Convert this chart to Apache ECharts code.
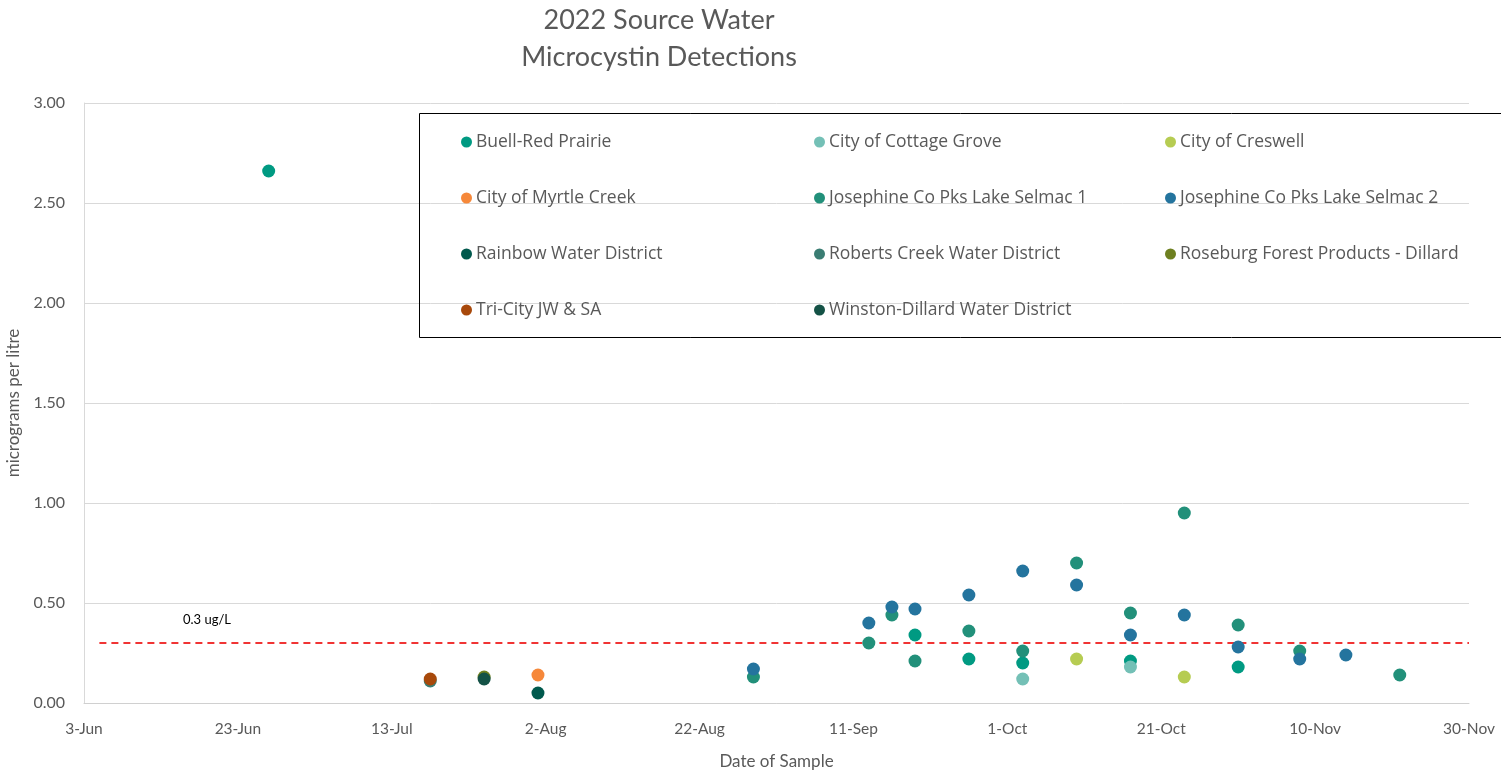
<!DOCTYPE html>
<html>
<head>
<meta charset="utf-8">
<script src="https://cdn.jsdelivr.net/npm/echarts@6/dist/echarts.min.js"></script>
<style>
  html, body { margin: 0; padding: 0; background: #fff; }
  #chart { width: 1501px; height: 776px; }
</style>
</head>
<body>
<div id="chart"></div>
<script>
// sample dates / microcystin values (ug/L)
const buellRedPrairie = [['2022-06-27', 2.66], ['2022-09-19', 0.34], ['2022-09-26', 0.22], ['2022-10-03', 0.20], ['2022-10-17', 0.21], ['2022-10-31', 0.18]]
const cottageGrove = [['2022-10-03', 0.12], ['2022-10-17', 0.18]]
const creswell = [['2022-10-10', 0.22], ['2022-10-24', 0.13]]
const myrtleCreek = [['2022-08-01', 0.14]]
const selmac1 = [['2022-08-29', 0.13], ['2022-09-13', 0.30], ['2022-09-16', 0.44], ['2022-09-19', 0.21], ['2022-09-26', 0.36], ['2022-10-03', 0.26], ['2022-10-10', 0.70], ['2022-10-17', 0.45], ['2022-10-24', 0.95], ['2022-10-31', 0.39], ['2022-11-08', 0.26], ['2022-11-21', 0.14]]
const selmac2 = [['2022-08-29', 0.17], ['2022-09-13', 0.40], ['2022-09-16', 0.48], ['2022-09-19', 0.47], ['2022-09-26', 0.54], ['2022-10-03', 0.66], ['2022-10-10', 0.59], ['2022-10-17', 0.34], ['2022-10-24', 0.44], ['2022-10-31', 0.28], ['2022-11-08', 0.22], ['2022-11-14', 0.24]]
const rainbow = [['2022-08-01', 0.05]]
const robertsCreek = [['2022-07-18', 0.11]]
const roseburg = [['2022-07-25', 0.13]]
const triCity = [['2022-07-18', 0.12]]
const winstonDillard = [['2022-07-25', 0.12]]

// 0.3 ug/L guideline
const threshold = 0.3
const thresholdSpan = ['2022-06-05', '2022-11-30']

const axisStart = '2022-06-03'
const axisEnd = '2022-11-30'
const monthNames = ['Jan', 'Feb', 'Mar', 'Apr', 'May', 'Jun', 'Jul', 'Aug', 'Sep', 'Oct', 'Nov', 'Dec']

const DAY = 86400000
const toMs = s => Date.parse(s + 'T00:00:00Z')

const seriesDefs = [
  { name: 'Buell-Red Prairie', data: buellRedPrairie, color: '#009a82' },
  { name: 'City of Cottage Grove', data: cottageGrove, color: '#74c0b6' },
  { name: 'City of Creswell', data: creswell, color: '#b6cc52' },
  { name: 'City of Myrtle Creek', data: myrtleCreek, color: '#f6883a' },
  { name: 'Josephine Co Pks Lake Selmac 1', data: selmac1, color: '#22907a' },
  { name: 'Josephine Co Pks Lake Selmac 2', data: selmac2, color: '#24749e' },
  { name: 'Rainbow Water District', data: rainbow, color: '#00594d' },
  { name: 'Roberts Creek Water District', data: robertsCreek, color: '#3a7d73' },
  { name: 'Roseburg Forest Products - Dillard', data: roseburg, color: '#6e8020' },
  { name: 'Tri-City JW & SA', data: triCity, color: '#a8490b' },
  { name: 'Winston-Dillard Water District', data: winstonDillard, color: '#145246' }
]

const FONT = 'Lato'
const GREY = '#595959'

const chart = echarts.init(document.getElementById('chart'))

const legendCol = (names, left) => ({
  orient: 'vertical',
  left: left,
  top: 132,
  padding: 0,
  itemGap: 36,
  itemWidth: 11,
  itemHeight: 11,
  icon: 'circle',
  data: names,
  textStyle: { color: GREY, fontFamily: 'Open Sans', fontSize: 17.5, lineHeight: 20, padding: [0, 0, 0, -1] }
})

const names = seriesDefs.map(d => d.name)

chart.setOption({
  backgroundColor: '#fff',
  animation: false,
  title: {
    text: '2022 Source Water\nMicrocystin Detections',
    left: 654,
    top: -3,
    textAlign: 'center',
    textStyle: { color: GREY, fontFamily: FONT, fontSize: 27, fontWeight: 'normal', lineHeight: 37 }
  },
  legend: [
    legendCol([names[0], names[3], names[6], names[9]], 461),
    legendCol([names[1], names[4], names[7], names[10]], 814),
    legendCol([names[2], names[5], names[8]], 1165)
  ],
  grid: { left: 84, right: 32, top: 103, bottom: 73, outerBoundsMode: 'none' },
  xAxis: {
    type: 'value',
    min: toMs(axisStart),
    max: toMs(axisEnd),
    interval: 20 * DAY,
    name: 'Date of Sample',
    nameLocation: 'middle',
    nameGap: 50,
    nameTextStyle: { color: GREY, fontFamily: FONT, fontSize: 17 },
    axisLine: { lineStyle: { color: '#d0d0d0', width: 1 } },
    axisTick: { show: false },
    splitLine: { show: false },
    axisLabel: {
      color: GREY,
      fontFamily: FONT,
      fontSize: 15.5,
      margin: 18,
      formatter: v => {
        const d = new Date(v)
        return d.getUTCDate() + '-' + monthNames[d.getUTCMonth()]
      }
    }
  },
  yAxis: {
    type: 'value',
    min: 0,
    max: 3,
    interval: 0.5,
    name: 'micrograms per litre',
    nameLocation: 'middle',
    nameGap: 62,
    nameTextStyle: { color: GREY, fontFamily: FONT, fontSize: 17 },
    axisLine: { show: true, lineStyle: { color: '#d9d9d9' } },
    axisTick: { show: false },
    splitLine: { lineStyle: { color: '#d9d9d9' } },
    axisLabel: { color: GREY, fontFamily: FONT, fontSize: 16, margin: 19, formatter: v => v.toFixed(2) }
  },
  graphic: [
    {
      type: 'rect',
      shape: { x: 419.5, y: 113.5, width: 1090, height: 224 },
      style: { fill: 'none', stroke: '#000', lineWidth: 1 },
      z: 10
    },
    {
      type: 'text',
      left: 183,
      top: 613,
      style: { text: '0.3 ug/L', fill: '#000', font: '13px ' + FONT }
    }
  ],
  series: seriesDefs.map(d => ({
    name: d.name,
    type: 'scatter',
    symbolSize: 13,
    itemStyle: { color: d.color, opacity: 1 },
    data: d.data.map(p => [toMs(p[0]), p[1]])
  })).concat([{
    name: 'threshold',
    type: 'line',
    symbol: 'none',
    silent: true,
    z: 1,
    lineStyle: { color: '#f03434', width: 2, type: [7, 5] },
    data: thresholdSpan.map(s => [toMs(s), threshold])
  }])
})
</script>
</body>
</html>
